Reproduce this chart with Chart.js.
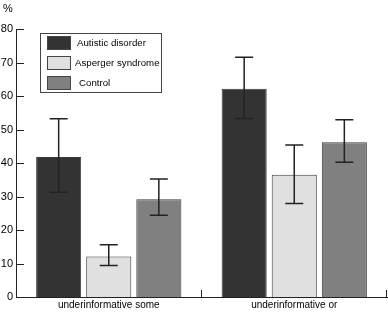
<!DOCTYPE html>
<html lang="en">
<head>
    <meta charset="UTF-8">
    <title>Underinformative responses</title>
    <script src="https://cdn.jsdelivr.net/npm/chart.js"></script>
    <style>
        body { margin: 0; padding: 0; background: #fff; }
        #wrap { width: 388px; height: 315px; }
    </style>
</head>
<body>
<div id="wrap"><canvas id="chart" width="388" height="315"></canvas></div>
<script>
    // data
    const categories = ['underinformative some', 'underinformative or'];
    const groups = ['Autistic disorder', 'Asperger syndrome', 'Control'];
    const autistic = [41.8, 62.2];
    const asperger = [12.1, 36.5];
    const control = [29.2, 46.2];
    // error bars: [low, high]
    const autisticErr = [[31.3, 53.2], [53.3, 71.6]];
    const aspergerErr = [[9.4, 15.6], [27.9, 45.4]];
    const controlErr = [[24.4, 35.2], [40.2, 52.9]];
    const yTicks = [0, 10, 20, 30, 40, 50, 60, 70, 80];

    const colors = ['#333333', '#e0e0e0', '#808080'];
    const font = 'Liberation Sans, Arial, sans-serif';

    // error bars drawn through the y scale
    const errorBars = {
        id: 'errorBars',
        afterDatasetsDraw(chart) {
            const ctx = chart.ctx;
            const y = chart.scales.y;
            ctx.save();
            ctx.strokeStyle = '#222';
            ctx.lineWidth = 1.5;
            chart.data.datasets.forEach((ds, i) => {
                const meta = chart.getDatasetMeta(i);
                meta.data.forEach((bar, j) => {
                    const [lo, hi] = ds.errors[j];
                    const x = bar.x;
                    const yl = y.getPixelForValue(lo);
                    const yh = y.getPixelForValue(hi);
                    ctx.beginPath();
                    ctx.moveTo(x, yl); ctx.lineTo(x, yh);
                    ctx.moveTo(x - 9, yl); ctx.lineTo(x + 9, yl);
                    ctx.moveTo(x - 9, yh); ctx.lineTo(x + 9, yh);
                    ctx.stroke();
                });
            });
            ctx.restore();
        }
    };

    // inward ticks, "%" label and boxed legend
    const extras = {
        id: 'extras',
        afterDraw(chart) {
            const ctx = chart.ctx;
            const xs = chart.scales.x;
            const ys = chart.scales.y;
            const area = chart.chartArea;
            ctx.save();
            ctx.strokeStyle = '#222';
            ctx.lineWidth = 1;
            // y ticks pointing into the plot
            yTicks.forEach(v => {
                const py = Math.round(ys.getPixelForValue(v)) + 0.5;
                ctx.beginPath();
                ctx.moveTo(area.left, py);
                ctx.lineTo(area.left + 8, py);
                ctx.stroke();
            });
            // x ticks at category boundaries
            const half = (xs.getPixelForValue(1) - xs.getPixelForValue(0)) / 2;
            categories.forEach((c, i) => {
                const px = Math.round(xs.getPixelForValue(i) + half) - 0.5;
                ctx.beginPath();
                ctx.moveTo(px, area.bottom);
                ctx.lineTo(px, area.bottom - 7);
                ctx.stroke();
            });
            // "%" unit
            ctx.fillStyle = '#000';
            ctx.font = '11px ' + font;
            ctx.textBaseline = 'middle';
            ctx.textAlign = 'left';
            ctx.fillText('%', 3, 9);
            // legend box
            ctx.strokeStyle = '#444';
            ctx.strokeRect(40.5, 33.5, 121, 59);
            chart.data.datasets.forEach((ds, i) => {
                const top = 36 + i * 20;
                ctx.fillStyle = ds.backgroundColor;
                ctx.fillRect(47, top, 24, 14);
                ctx.strokeStyle = '#444';
                ctx.strokeRect(47.5, top + 0.5, 23, 13);
                ctx.fillStyle = '#000';
                ctx.font = '9.7px ' + font;
                ctx.fillText(ds.label, [77, 75, 79][i], top + 7.5);
            });
            ctx.restore();
        }
    };

    const makeSet = (label, data, errors, i) => ({
        label: label,
        data: data,
        errors: errors,
        backgroundColor: colors[i],
        borderColor: '#3a3a3a',
        borderWidth: 1,
        borderSkipped: 'bottom',
        categoryPercentage: 0.81,
        barPercentage: 0.9
    });

    new Chart(document.getElementById('chart'), {
        type: 'bar',
        data: {
            labels: categories,
            datasets: [
                makeSet(groups[0], autistic, autisticErr, 0),
                makeSet(groups[1], asperger, aspergerErr, 1),
                makeSet(groups[2], control, controlErr, 2)
            ]
        },
        options: {
            responsive: false,
            animation: false,
            layout: { padding: { top: 29, right: 1, left: 0, bottom: 0 } },
            plugins: {
                legend: { display: false },
                tooltip: { enabled: false }
            },
            scales: {
                x: {
                    grid: { display: false, drawTicks: false },
                    border: { display: true, color: '#222', width: 1 },
                    ticks: { color: '#000', font: { family: font, size: 10 }, padding: 2, maxRotation: 0 },
                    afterFit(scale) { scale.height = 18; }
                },
                y: {
                    min: 0,
                    max: 80,
                    grid: { display: false, drawTicks: false },
                    border: { display: true, color: '#222', width: 1 },
                    ticks: { stepSize: 10, color: '#000', font: { family: font, size: 11 }, padding: 3 },
                    afterFit(scale) { scale.width = 16; }
                }
            }
        },
        plugins: [errorBars, extras]
    });
</script>
</body>
</html>
